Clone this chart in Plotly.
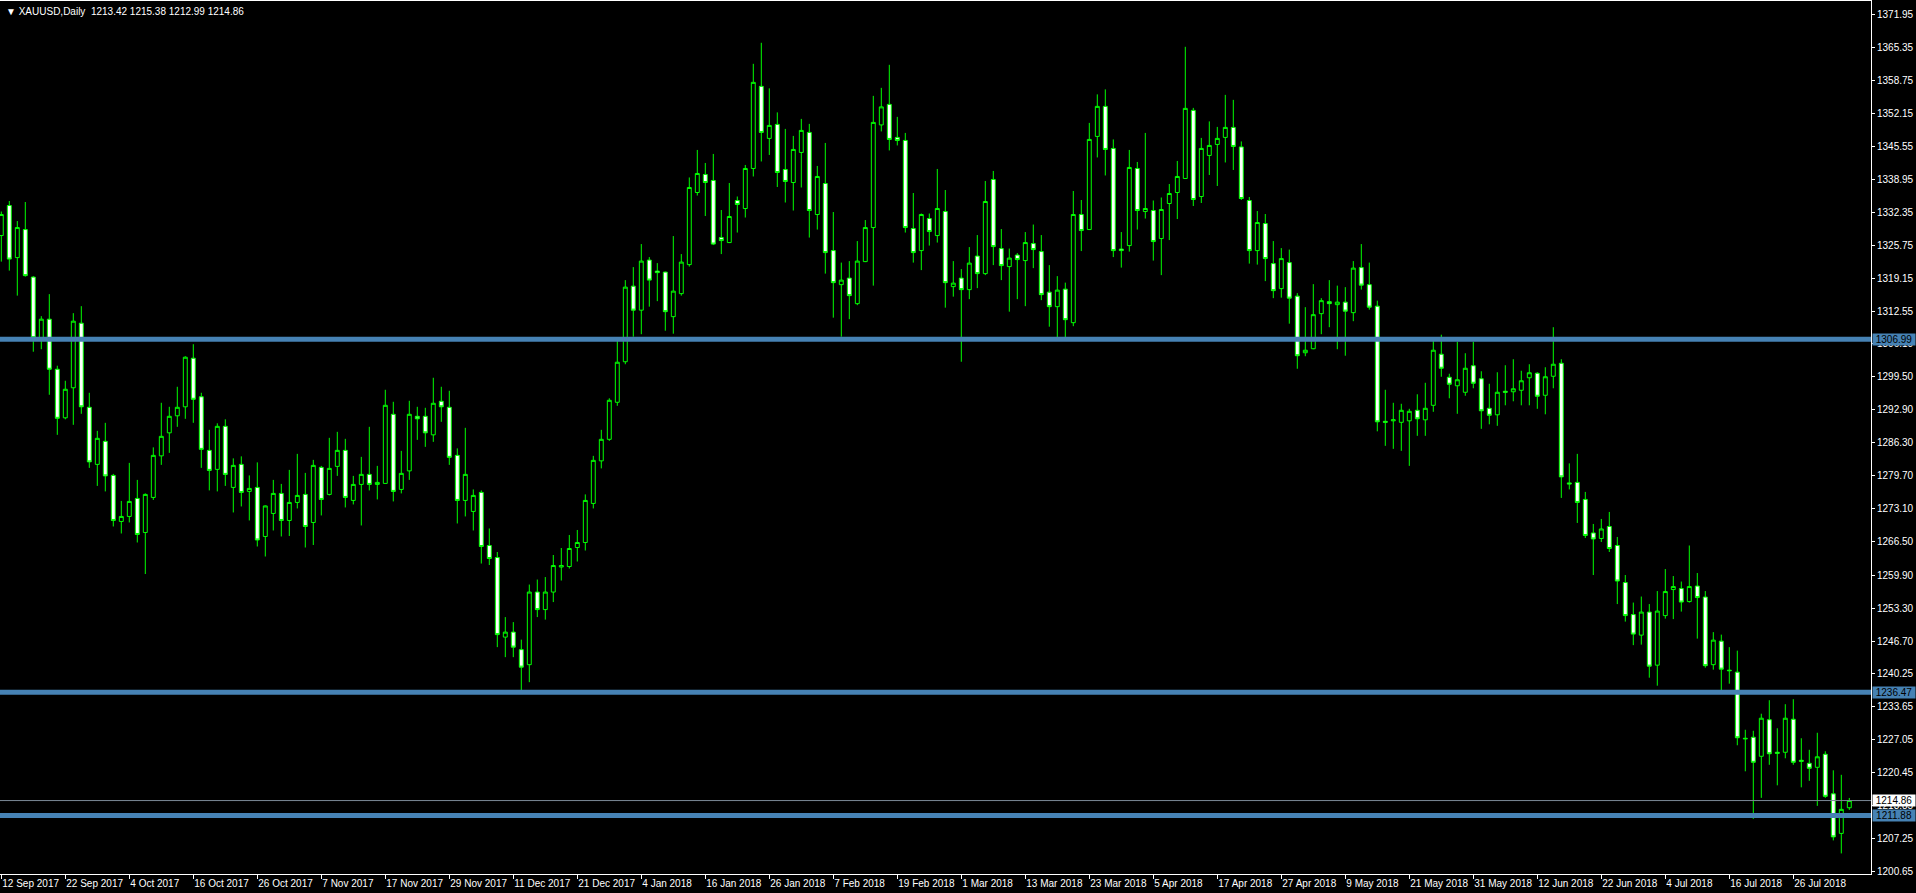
import plotly.graph_objects as go

# ---------------- data ----------------
opens = [1327.7,1333.7,1323.3,1328.9,1319.4,1307.0,1311.0,1301.0,1291.3,1297.3,
         1310.2,1293.4,1282.0,1286.6,1279.8,1270.6,1271.6,1275.2,1268.4,1275.4,
         1283.7,1288.3,1291.7,1293.5,1303.2,1295.5,1284.8,1281.0,1289.6,1277.4,
         1282.0,1276.6,1277.4,1267.6,1272.2,1276.2,1270.8,1274.4,1276.0,1270.4,
         1281.4,1276.0,1281.6,1284.8,1274.8,1278.0,1280.0,1278.0,1278.2,1292.0,
         1277.0,1280.7,1291.6,1291.6,1287.9,1294.6,1293.4,1283.8,1274.8,1272.6,
         1276.4,1265.8,1263.4,1247.5,1248.5,1245.0,1242.0,1256.5,1253.0,1256.5,
         1261.5,1261.6,1265.4,1266.4,1274.2,1282.7,1287.0,1294.4,1302.5,1317.6,
         1312.8,1322.8,1320.6,1320.4,1311.5,1316.1,1321.9,1336.3,1339.9,1338.7,
         1327.3,1326.3,1334.7,1333.1,1341.1,1357.5,1347.1,1349.9,1340.9,1338.3,
         1344.3,1348.3,1331.9,1338.1,1324.7,1317.9,1319.2,1314.1,1322.5,1329.3,
         1349.8,1353.9,1347.3,1346.7,1329.1,1324.7,1331.1,1327.7,1332.5,1317.5,
         1319.2,1316.9,1323.6,1320.1,1338.9,1325.1,1321.5,1323.8,1322.7,1326.1,
         1324.5,1316.4,1313.5,1317.0,1310.3,1331.9,1328.9,1347.5,1353.5,1345.1,
         1325.0,1325.7,1341.1,1332.5,1332.7,1327.1,1334.1,1336.3,1339.1,1352.7,
         1335.5,1343.7,1345.9,1347.3,1349.3,1345.4,1334.7,1324.7,1330.1,1322.1,
         1317.1,1322.3,1315.6,1304.3,1305.1,1312.1,1314.5,1313.9,1314.4,1312.3,
         1321.3,1317.9,1313.6,1290.6,1290.7,1290.4,1290.7,1292.8,1290.9,1293.8,
         1304.0,1299.4,1297.7,1296.4,1301.7,1299.1,1293.2,1291.9,1296.6,1296.5,
         1296.8,1299.3,1300.2,1295.8,1299.6,1302.2,1278.3,1278.4,1275.0,1268.3,
         1267.2,1269.6,1265.8,1258.4,1252.0,1247.9,1252.5,1241.9,1251.8,1257.0,
         1257.2,1254.6,1257.7,1255.5,1242.0,1246.7,1240.9,1240.5,1227.3,1227.5,
         1223.7,1231.0,1224.5,1224.5,1231.1,1222.9,1222.3,1221.5,1224.1,1216.2,
         1208.3,1213.42]
highs = [1332.5,1334.6,1330.6,1334.4,1319.6,1311.6,1316.0,1301.7,1298.7,1312.2,
         1313.6,1296.3,1288.7,1290.3,1280.1,1274.7,1282.3,1278.9,1276.2,1285.4,
         1294.3,1293.5,1297.5,1303.6,1306.0,1296.3,1288.9,1290.2,1291.0,1283.2,
         1283.6,1279.8,1282.4,1273.8,1278.9,1278.1,1280.9,1284.1,1280.3,1282.9,
         1281.7,1287.3,1288.5,1287.1,1279.7,1283.5,1289.5,1281.7,1296.9,1294.5,
         1284.7,1294.7,1293.5,1293.3,1299.3,1297.5,1296.7,1285.2,1289.3,1277.0,
         1276.8,1269.2,1264.5,1251.5,1250.5,1247.0,1258.0,1259.0,1259.5,1263.9,
         1265.3,1267.9,1268.9,1276.0,1283.7,1288.9,1295.2,1306.7,1318.8,1321.4,
         1326.0,1323.4,1322.2,1320.5,1327.6,1324.0,1339.3,1344.8,1342.2,1344.0,
         1332.8,1338.2,1335.5,1341.8,1362.0,1366.2,1357.1,1352.3,1349.0,1347.6,
         1351.0,1350.0,1341.6,1346.2,1332.4,1322.3,1322.6,1326.6,1330.8,1355.6,
         1357.2,1361.8,1351.4,1348.2,1336.2,1332.1,1332.1,1341.0,1336.8,1322.6,
         1321.0,1325.4,1327.8,1338.6,1340.6,1329.0,1325.1,1324.2,1328.4,1329.9,
         1327.8,1321.8,1319.6,1318.3,1336.6,1334.8,1350.2,1355.9,1356.9,1346.9,
         1328.4,1344.8,1342.4,1348.2,1334.7,1335.3,1338.0,1342.6,1365.4,1353.2,
         1347.2,1350.5,1349.4,1355.8,1354.8,1346.5,1335.4,1332.6,1332.0,1326.6,
         1325.2,1324.9,1316.2,1313.4,1318.0,1315.2,1318.8,1317.7,1317.4,1322.6,
         1326.0,1322.3,1314.7,1296.9,1294.3,1294.1,1293.1,1296.0,1298.3,1306.7,
         1307.9,1300.1,1306.5,1304.2,1306.5,1300.6,1298.1,1300.4,1301.8,1303.0,
         1300.7,1302.0,1300.4,1301.4,1309.4,1303.0,1282.2,1284.1,1276.5,1270.1,
         1271.1,1272.5,1267.5,1259.9,1254.4,1255.6,1254.1,1256.7,1261.1,1259.7,
         1258.6,1265.8,1260.3,1256.7,1248.5,1248.0,1245.5,1244.8,1229.0,1228.8,
         1232.2,1234.9,1229.3,1234.1,1235.1,1227.3,1225.0,1228.4,1224.7,1220.9,
         1220.0,1215.38]
lows = [1322.5,1320.7,1315.7,1319.5,1304.5,1305.0,1295.9,1287.9,1291.0,1289.9,
        1292.1,1281.3,1277.7,1276.6,1269.6,1268.2,1270.4,1266.4,1260.1,1274.9,
        1281.9,1284.3,1289.5,1291.1,1290.3,1281.3,1276.8,1276.6,1277.7,1272.4,
        1273.6,1270.8,1265.6,1263.6,1268.8,1267.6,1267.7,1273.2,1265.4,1265.9,
        1271.8,1275.8,1279.7,1273.4,1274.0,1269.8,1276.8,1275.0,1278.1,1274.6,
        1276.2,1278.9,1286.9,1285.5,1286.5,1290.5,1281.9,1270.2,1271.6,1268.8,
        1262.2,1261.9,1245.5,1243.5,1243.5,1236.5,1238.5,1251.5,1251.0,1254.5,
        1258.8,1261.2,1262.6,1264.8,1273.2,1281.2,1286.7,1293.7,1302.0,1307.5,
        1308.0,1313.5,1314.6,1308.7,1308.1,1315.7,1321.5,1335.7,1331.6,1325.8,
        1324.0,1326.2,1328.3,1331.3,1339.5,1342.5,1343.8,1337.4,1334.3,1332.7,
        1337.3,1327.3,1328.9,1320.1,1311.3,1307.5,1311.0,1313.8,1322.4,1317.7,
        1348.5,1344.7,1345.7,1328.3,1322.3,1320.8,1325.7,1326.3,1313.3,1315.5,
        1302.5,1315.0,1317.2,1319.8,1321.8,1318.8,1312.5,1315.0,1313.6,1321.2,
        1314.8,1309.5,1307.0,1307.0,1309.6,1324.6,1328.8,1343.3,1339.7,1323.4,
        1321.3,1324.5,1328.9,1331.1,1322.7,1319.8,1326.8,1331.0,1339.0,1333.6,
        1334.2,1339.8,1337.6,1342.3,1340.8,1334.8,1322.1,1321.9,1318.6,1315.2,
        1315.3,1310.1,1301.1,1303.6,1305.0,1308.0,1309.4,1305.0,1303.7,1310.6,
        1316.9,1312.9,1288.6,1285.7,1285.1,1284.7,1281.7,1287.7,1287.7,1292.5,
        1299.5,1295.2,1292.1,1295.7,1297.2,1289.1,1290.0,1289.7,1293.8,1294.6,
        1293.8,1293.8,1293.1,1292.0,1297.2,1275.3,1277.0,1270.3,1267.3,1259.9,
        1266.5,1264.5,1254.1,1250.6,1245.9,1246.0,1239.4,1237.8,1251.2,1251.1,
        1252.6,1254.4,1247.2,1241.4,1241.0,1236.9,1238.2,1225.9,1220.7,1211.2,
        1215.4,1222.0,1217.9,1223.3,1222.0,1217.5,1218.8,1213.8,1215.4,1206.9,
        1204.3,1212.99]
closes = [1331.9,1323.0,1329.3,1319.7,1307.3,1311.0,1301.0,1291.2,1297.0,1310.6,
          1293.5,1282.5,1287.2,1279.7,1270.8,1271.6,1274.6,1268.0,1276.0,1283.8,
          1287.6,1291.6,1293.4,1303.4,1295.0,1285.0,1280.8,1289.6,1280.0,1281.8,
          1276.4,1277.2,1266.9,1273.7,1276.2,1270.8,1274.4,1275.8,1269.6,1281.8,
          1275.0,1281.2,1284.8,1275.4,1278.0,1280.0,1278.0,1278.4,1293.8,1276.6,
          1280.2,1292.0,1291.1,1288.3,1294.2,1293.5,1283.4,1274.8,1280.0,1275.8,
          1265.6,1263.2,1248.0,1248.5,1245.5,1241.5,1256.5,1253.0,1256.5,1261.8,
          1261.8,1265.2,1266.4,1274.8,1282.8,1287.0,1294.8,1302.4,1317.4,1312.8,
          1322.6,1318.8,1320.3,1312.5,1316.6,1322.4,1337.3,1340.1,1338.3,1326.0,
          1326.7,1331.5,1333.9,1341.1,1358.3,1348.3,1349.7,1340.3,1338.5,1344.9,
          1348.7,1332.7,1339.5,1324.3,1318.3,1318.8,1315.7,1322.6,1329.3,1350.3,
          1353.4,1346.9,1346.7,1329.3,1324.3,1331.9,1328.5,1333.1,1318.3,1318.2,
          1316.9,1322.2,1320.1,1334.5,1325.5,1321.7,1323.2,1322.9,1326.3,1324.9,
          1315.9,1313.5,1316.8,1310.9,1331.9,1328.7,1346.9,1353.5,1344.9,1324.7,
          1324.7,1341.3,1332.7,1333.1,1326.5,1332.9,1336.1,1339.5,1353.1,1334.9,
          1345.1,1345.7,1347.1,1349.3,1345.5,1335.1,1324.7,1330.3,1323.1,1316.7,
          1323.1,1315.2,1303.7,1304.8,1311.9,1314.7,1314.1,1314.4,1312.6,1321.2,
          1317.8,1313.4,1290.5,1290.4,1290.9,1292.8,1292.6,1291.1,1293.2,1304.8,
          1301.2,1298.0,1298.9,1301.2,1298.2,1292.7,1291.8,1296.4,1296.4,1297.1,
          1298.7,1300.3,1295.6,1299.5,1302.0,1279.5,1278.1,1274.4,1267.8,1267.1,
          1269.1,1265.2,1258.7,1251.8,1248.1,1252.5,1241.7,1252.7,1256.6,1257.6,
          1254.5,1257.6,1255.4,1241.8,1246.9,1241.1,1240.8,1227.4,1227.2,1222.5,
          1231.3,1224.2,1224.3,1231.3,1222.5,1222.7,1221.3,1223.6,1215.7,1207.6,
          1213.1,1214.86]

date_labels = ["12 Sep 2017","22 Sep 2017","4 Oct 2017","16 Oct 2017","26 Oct 2017",
               "7 Nov 2017","17 Nov 2017","29 Nov 2017","11 Dec 2017","21 Dec 2017",
               "4 Jan 2018","16 Jan 2018","26 Jan 2018","7 Feb 2018","19 Feb 2018",
               "1 Mar 2018","13 Mar 2018","23 Mar 2018","5 Apr 2018","17 Apr 2018",
               "27 Apr 2018","9 May 2018","21 May 2018","31 May 2018","12 Jun 2018",
               "22 Jun 2018","4 Jul 2018","16 Jul 2018","26 Jul 2018"]
label_step = 8  # one date label every 8 bars

price_ticks = ["1371.95","1365.35","1358.75","1352.15","1345.55","1338.95","1332.35",
               "1325.75","1319.15","1312.55","1306.10","1299.50","1292.90","1286.30",
               "1279.70","1273.10","1266.50","1259.90","1253.30","1246.70","1240.25",
               "1233.65","1227.05","1220.45","1213.85","1207.25","1200.65"]

levels = [1306.99, 1236.47, 1211.88]   # horizontal support/resistance lines
bid = 1214.86
header = "\u25BC XAUUSD,Daily  1213.42 1215.38 1212.99 1214.86"

# ---------------- figure ----------------
W, H = 1916, 893
x = list(range(len(opens)))

GREEN = "#00FF00"
BLUE = "#4682B4"
FONT = "Liberation Sans, Arial"

fig = go.Figure()
fig.add_trace(go.Candlestick(
    x=x, open=opens, high=highs, low=lows, close=closes,
    increasing=dict(line=dict(color=GREEN, width=1), fillcolor="#000000"),
    decreasing=dict(line=dict(color=GREEN, width=1), fillcolor="#FFFFFF"),
    whiskerwidth=0, hoverinfo="skip", showlegend=False,
))

shapes = []
for lv in levels:
    shapes.append(dict(type="line", xref="paper", x0=0, x1=1, yref="y", y0=lv, y1=lv,
                       line=dict(color=BLUE, width=5), layer="above"))
shapes.append(dict(type="line", xref="paper", x0=0, x1=1, yref="y", y0=bid, y1=bid,
                   line=dict(color="#7A8896", width=1), layer="above"))

annotations = []
for lv in levels:
    annotations.append(dict(xref="paper", x=1, xanchor="left", xshift=1,
                            yref="y", y=lv, yanchor="middle",
                            text=f"{lv:.2f}", showarrow=False,
                            bgcolor=BLUE, borderpad=0, width=42, height=11,
                            font=dict(family=FONT, size=10, color="#000000")))
annotations.append(dict(xref="paper", x=1, xanchor="left", xshift=1,
                        yref="y", y=bid, yanchor="middle",
                        text=f"{bid:.2f}", showarrow=False,
                        bgcolor="#FFFFFF", borderpad=0, width=42, height=11,
                        font=dict(family=FONT, size=10, color="#000000")))
annotations.append(dict(xref="paper", x=0, xanchor="left", xshift=4,
                        yref="paper", y=1, yanchor="top", yshift=-3,
                        text=header, showarrow=False,
                        font=dict(family="Liberation Sans, DejaVu Sans", size=10, color="#FFFFFF")))

# pixel geometry of the MT4 chart: bar i centred at 1.3 + 8*i px, price scale 5.007 px/$
plot_left, plot_right = 0, 1871
plot_top, plot_bottom = 1, 874
px_per_bar = 8.0
x0 = (plot_left - 1.3) / px_per_bar
x1 = (plot_right - 1.3) / px_per_bar
px_per_usd = 5.007
y_top = 1371.95 + (14 - plot_top) / px_per_usd
y_bot = 1371.95 - (plot_bottom - 14) / px_per_usd

fig.update_layout(
    width=W, height=H,
    margin=dict(l=plot_left, r=W - plot_right, t=plot_top, b=H - plot_bottom, autoexpand=False),
    paper_bgcolor="#000000", plot_bgcolor="#000000",
    shapes=shapes, annotations=annotations,
    hovermode=False, dragmode=False,
    font=dict(family=FONT, size=10, color="#FFFFFF"),
    xaxis=dict(range=[x0, x1], rangeslider=dict(visible=False), showgrid=False, zeroline=False,
               tickmode="array", tickvals=[i * label_step for i in range(len(date_labels))],
               ticktext=date_labels, ticks="outside", ticklen=4, tickcolor="#FFFFFF",
               ticklabelposition="outside right", tickangle=0, automargin=False,
               showline=True, linecolor="#FFFFFF", linewidth=1, mirror=True,
               tickfont=dict(family=FONT, size=10, color="#FFFFFF"),
               fixedrange=True),
    yaxis=dict(range=[y_bot, y_top], side="right", showgrid=False, zeroline=False,
               tickmode="array", tickvals=[float(t) for t in price_ticks], ticktext=price_ticks,
               ticks="outside", ticklen=3, tickcolor="#FFFFFF", automargin=False,
               showline=True, linecolor="#FFFFFF", linewidth=1, mirror=True,
               tickfont=dict(family=FONT, size=10, color="#FFFFFF"),
               fixedrange=True),
)

fig.write_html("out.html", config={"displayModeBar": False},
               post_script="document.body.style.margin='0';document.body.style.overflow='hidden';")
